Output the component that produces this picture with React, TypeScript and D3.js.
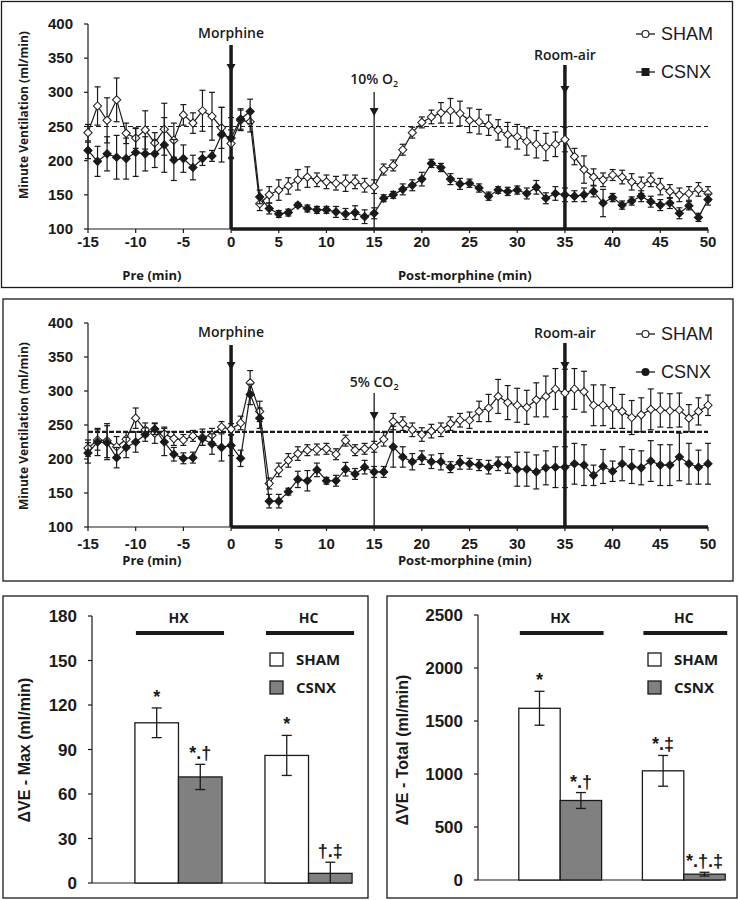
import React from "react";
import * as d3 from "d3";

// ---------- DATA ----------
const minutes = d3.range(-15, 51);

// Panel A (hypoxia, 10% O2)
const hxSham = [241, 280, 259, 289, 240, 233, 245, 226, 246, 230, 267, 255, 273, 265, 248,
  225, 259, 257, 137, 150, 157, 163, 172,
  176, 172, 169, 167, 167, 169, 164, 162,
  187, 193, 216, 241, 256,
  264, 270, 273, 269, 259, 257, 252, 245, 238,
  235, 228, 224, 220, 224, 231,
  206, 187, 176, 172, 179, 176, 169,
  164, 172, 162, 155, 150, 152, 158, 152];
const hxShamErr = [12, 28, 33, 32, 15, 15, 28, 15, 38, 25, 15, 15, 30, 35, 30,
  20, 15, 15, 10, 12, 15, 12, 15,
  15, 10, 10, 10, 12, 10, 10, 10,
  8, 8, 8, 8, 8,
  10, 15, 18, 18, 18, 18, 15, 15, 18,
  18, 20, 20, 20, 18, 18,
  12, 20, 12, 10, 8, 10, 12,
  12, 10, 12, 10, 10, 10, 10, 10];
const hxCsnx = [215, 199, 210, 205, 203, 212, 210, 210, 223, 201, 203, 190, 203, 207, 238,
  233, 261, 272, 147, 130, 122, 124, 135,
  130, 128, 128, 125, 122, 124, 118, 123,
  145, 150, 158, 164, 173,
  196, 190, 173, 166, 167, 160, 148, 157, 155,
  157, 152, 161, 145, 152, 150,
  148, 150, 155, 138, 146, 135, 141,
  148, 140, 135, 138, 123, 134, 117, 143];
const hxCsnxErr = [12, 22, 25, 32, 30, 35, 25, 20, 40, 30, 20, 18, 10, 8, 40,
  30, 15, 18, 10, 8, 5, 5, 3,
  5, 5, 5, 8, 8, 10, 10, 8,
  5, 5, 8, 8, 10,
  6, 6, 8, 8, 6, 6, 6, 5, 6,
  6, 8, 10, 8, 10, 10,
  8, 10, 8, 20, 6, 6, 6,
  8, 8, 8, 8, 8, 6, 6, 8];

// Panel B (hypercapnia, 5% CO2)
const hcSham = [216, 228, 227, 218, 229, 260, 243, 238, 237, 230, 228, 234, 232, 235, 247,
  244, 253, 312, 270, 164, 184, 198, 208,
  213, 214, 215, 207, 227, 213, 215, 218,
  229, 255, 252, 243, 236,
  241, 243, 252, 257, 257, 270, 275, 292, 283,
  279, 276, 287, 292, 303, 297,
  303, 299, 279, 279, 275, 270, 261,
  265, 273, 272, 271, 272, 260, 270, 279];
const hcShamErr = [12, 15, 25, 15, 10, 15, 10, 15, 10, 10, 8, 8, 12, 10, 8,
  8, 10, 18, 15, 8, 10, 10, 10,
  8, 8, 8, 8, 8, 8, 8, 8,
  10, 12, 10, 10, 10,
  10, 10, 10, 10, 12, 15, 20, 25, 25,
  25, 25, 25, 30, 30, 35,
  30, 30, 30, 30, 30, 25, 25,
  25, 30, 25, 25, 25, 20, 20, 15];
const hcCsnx = [209, 225, 224, 202, 217, 225, 236, 244, 225, 207, 201, 202, 230, 222, 217,
  220, 201, 295, 260, 138, 138, 152, 170,
  168, 184, 168, 168, 185, 178, 188, 181,
  181, 218, 203, 196, 202,
  196, 196, 188, 195, 193, 191, 188, 193, 191,
  185, 185, 181, 187, 188, 188,
  193, 191, 176, 189, 182, 193, 189,
  187, 197, 191, 191, 203, 193, 188, 193];
const hcCsnxErr = [15, 20, 25, 15, 15, 15, 10, 8, 20, 10, 8, 8, 10, 15, 20,
  15, 12, 15, 15, 10, 10, 5, 12,
  15, 10, 5, 8, 10, 8, 10, 8,
  8, 30, 15, 12, 10,
  10, 12, 8, 10, 8, 8, 10, 10, 12,
  25, 25, 25, 25, 30, 30,
  30, 30, 15, 25, 15, 25, 25,
  25, 30, 30, 30, 35, 30, 25, 30];

const yTicksLine = [100, 150, 200, 250, 300, 350, 400];
const xTicksLine = [-15, -10, -5, 0, 5, 10, 15, 20, 25, 30, 35, 40, 45, 50];

// Bar panels
const groups = ["HX", "HC"];
const seriesNames = ["SHAM", "CSNX"];
const maxSham = [108, 86];
const maxShamErr = [10, 13.5];
const maxCsnx = [71.5, 6.5];
const maxCsnxErr = [8.5, 7.5];
const maxShamMarks = ["*", "*"];
const maxCsnxMarks = ["*.†", "†.‡"];
const maxTicks = [0, 30, 60, 90, 120, 150, 180];

const totSham = [1620, 1030];
const totShamErr = [160, 145];
const totCsnx = [750, 55];
const totCsnxErr = [75, 18];
const totShamMarks = ["*", "*.‡"];
const totCsnxMarks = ["*.†", "*.†.‡"];
const totTicks = [0, 500, 1000, 1500, 2000, 2500];

// ---------- STYLE ----------
const SANS = "'Liberation Sans', Arial, sans-serif";
const LABEL = "'Open Sans', 'Noto Sans', sans-serif";
const INK = "#1a1a1a";

type Ev = { t: number; label: string; sub?: string; yTop: number; yArrow: number; yLabel: number; thick: boolean };

function TimePanel(props: {
  box: [number, number, number, number];
  yBottom: number; yTop: number;
  sham: number[]; shamErr: number[]; csnx: number[]; csnxErr: number[];
  ref0: number; refWidth: number; refDash: string;
  events: Ev[];
  legendY: [number, number];
  csnxLegendSquare: boolean;
  tickBase: number; titleBase: number; yTitleCenter: number;
}) {
  const p = props;
  const x = d3.scaleLinear().domain([-15, 50]).range([88, 708]);
  const y = d3.scaleLinear().domain([100, 400]).range([p.yBottom, p.yTop]);
  const line = d3.line<number>().x((_, i) => x(minutes[i])).y((d) => y(d));
  const diamond = d3.symbol().type(d3.symbolSquare).size(34)()!;
  const renderSeries = (vals: number[], errs: number[], filled: boolean) => (
    <g>
      <path d={line(vals)!} fill="none" stroke={INK} strokeWidth={1.2} />
      {vals.map((v, i) => {
        const cx = x(minutes[i]);
        const t = y(v + errs[i]);
        const b = y(v - errs[i]);
        return (
          <g key={i}>
            <line x1={cx} x2={cx} y1={t} y2={b} stroke={INK} strokeWidth={1.2} />
            <line x1={cx - 3} x2={cx + 3} y1={t} y2={t} stroke={INK} strokeWidth={1.2} />
            <line x1={cx - 3} x2={cx + 3} y1={b} y2={b} stroke={INK} strokeWidth={1.2} />
          </g>
        );
      })}
      {vals.map((v, i) => (
        <path key={"m" + i} d={diamond} transform={`translate(${x(minutes[i])},${y(v)}) rotate(45)`}
          fill={filled ? INK : "white"} stroke={INK} strokeWidth={1} />
      ))}
    </g>
  );
  const [bx, by, bw, bh] = p.box;
  return (
    <g>
      <rect x={bx} y={by} width={bw} height={bh} fill="white" stroke={INK} strokeWidth={1.3} />
      <line x1={x(-15)} x2={x(50)} y1={y(p.ref0)} y2={y(p.ref0)} stroke={INK} strokeWidth={p.refWidth} strokeDasharray={p.refDash} />
      <line x1={x(-15)} x2={x(-15)} y1={y(400)} y2={y(100)} stroke={INK} strokeWidth={1.2} />
      {yTicksLine.map((t) => (
        <g key={t}>
          <line x1={x(-15) - 4} x2={x(-15)} y1={y(t)} y2={y(t)} stroke={INK} strokeWidth={1.2} />
          <text x={x(-15) - 15} y={y(t) + 5} textAnchor="end" fontFamily={SANS} fontSize={15} fontWeight="bold" fill={INK}>{t}</text>
        </g>
      ))}
      <line x1={x(-15)} x2={x(0)} y1={y(100)} y2={y(100)} stroke={INK} strokeWidth={1.2} />
      <line x1={x(0)} x2={x(50)} y1={y(100)} y2={y(100)} stroke={INK} strokeWidth={3.5} />
      {xTicksLine.map((t) => (
        <g key={t}>
          <line x1={x(t)} x2={x(t)} y1={y(100)} y2={y(100) + 4} stroke={INK} strokeWidth={1.2} />
          <text x={x(t)} y={p.tickBase} textAnchor="middle" fontFamily={SANS} fontSize={15} fontWeight="bold" fill={INK}>{t}</text>
        </g>
      ))}
      <text x={x(-8.3)} y={p.titleBase} textAnchor="middle" fontFamily={LABEL} fontSize={13} fontWeight="bold" fill={INK}>Pre (min)</text>
      <text x={x(24.5)} y={p.titleBase} textAnchor="middle" fontFamily={LABEL} fontSize={13} fontWeight="bold" fill={INK}>Post-morphine (min)</text>
      <text transform={`translate(28,${p.yTitleCenter}) rotate(-90)`} textAnchor="middle" fontFamily={LABEL} fontSize={12} fontWeight="bold" fill={INK}>Minute Ventilation (ml/min)</text>
      {p.events.map((e) => (
        <g key={e.label}>
          <line x1={x(e.t)} x2={x(e.t)} y1={e.yTop} y2={y(100)} stroke={INK} strokeWidth={e.thick ? 3.5 : 1.3} />
          <path d={`M${x(e.t) - 4.5},${e.yArrow} L${x(e.t) + 4.5},${e.yArrow} L${x(e.t)},${e.yArrow + 8} Z`} fill={INK} />
          <text x={x(e.t)} y={e.yLabel} textAnchor="middle" fontFamily={LABEL} fontSize={14} fontWeight="600" fill={INK}>
            {e.label}
            {e.sub ? <tspan fontSize={9} dy={3}>{e.sub}</tspan> : null}
          </text>
        </g>
      ))}
      {renderSeries(p.sham, p.shamErr, false)}
      {renderSeries(p.csnx, p.csnxErr, true)}
      <g>
        <line x1={636} x2={655} y1={p.legendY[0] - 6} y2={p.legendY[0] - 6} stroke={INK} strokeWidth={1.3} />
        <circle cx={645.5} cy={p.legendY[0] - 6} r={3.5} fill="white" stroke={INK} strokeWidth={1.1} />
        <text x={661} y={p.legendY[0]} fontFamily={SANS} fontSize={18} fill={INK}>SHAM</text>
        <line x1={636} x2={655} y1={p.legendY[1] - 6} y2={p.legendY[1] - 6} stroke={INK} strokeWidth={1.3} />
        {p.csnxLegendSquare
          ? <rect x={641.5} y={p.legendY[1] - 10} width={8} height={8} fill={INK} />
          : <circle cx={645.5} cy={p.legendY[1] - 6} r={4} fill={INK} />}
        <text x={661} y={p.legendY[1]} fontFamily={SANS} fontSize={18} fill={INK}>CSNX</text>
      </g>
    </g>
  );
}

function BarPanel(props: {
  box: [number, number, number, number];
  axisX: number; axisEnd: number; bandEnd: number; y0: number; yTopPx: number; maxV: number;
  ticks: number[]; sham: number[]; shamErr: number[]; csnx: number[]; csnxErr: number[];
  shamMarks: string[]; csnxMarks: string[]; title: string; titleX: number;
  legendX: number;
}) {
  const p = props;
  const y = d3.scaleLinear().domain([0, p.maxV]).range([p.y0, p.yTopPx]);
  const xg = d3.scaleBand<string>().domain(groups).range([p.axisX, p.bandEnd]).paddingInner(0.33).paddingOuter(0.33);
  const xs = d3.scaleBand<string>().domain(seriesNames).range([0, xg.bandwidth()]);
  const [bx, by, bw, bh] = p.box;
  const vals = [p.sham, p.csnx];
  const errs = [p.shamErr, p.csnxErr];
  const marks = [p.shamMarks, p.csnxMarks];
  const fills = ["white", "#808080"];
  const groupLineY = 633;
  return (
    <g>
      <rect x={bx} y={by} width={bw} height={bh} fill="white" stroke={INK} strokeWidth={1.3} />
      <line x1={p.axisX} x2={p.axisX} y1={y(p.maxV)} y2={y(0)} stroke={INK} strokeWidth={1.2} />
      <line x1={p.axisX} x2={p.axisEnd} y1={y(0)} y2={y(0)} stroke={INK} strokeWidth={1.2} />
      {p.ticks.map((t) => (
        <g key={t}>
          <line x1={p.axisX - 4} x2={p.axisX} y1={y(t)} y2={y(t)} stroke={INK} strokeWidth={1.2} />
          <text x={p.axisX - 15} y={y(t) + 6} textAnchor="end" fontFamily={SANS} fontSize={17} fontWeight="bold" fill={INK}>{t}</text>
        </g>
      ))}
      <text transform={`translate(${p.titleX},${750}) rotate(-90)`} textAnchor="middle" fontFamily={SANS} fontSize={16} fontWeight="bold" fill={INK}>{p.title}</text>
      {groups.map((g, gi) => (
        <g key={g}>
          <line x1={xg(g)! + 1} x2={xg(g)! + xg.bandwidth() + 2} y1={groupLineY} y2={groupLineY} stroke={INK} strokeWidth={4} />
          <text x={xg(g)! + xg.bandwidth() / 2} y={623} textAnchor="middle" fontFamily={LABEL} fontSize={14} fontWeight="bold" fill={INK}>{g}</text>
          {seriesNames.map((s, si) => {
            const v = vals[si][gi];
            const e = errs[si][gi];
            const x0 = xg(g)! + xs(s)!;
            const cx = x0 + xs.bandwidth() / 2;
            return (
              <g key={s}>
                <rect x={x0} y={y(v)} width={xs.bandwidth()} height={y(0) - y(v)} fill={fills[si]} stroke={INK} strokeWidth={1.3} />
                <line x1={cx} x2={cx} y1={y(v + e)} y2={Math.min(y(v - e), y(0))} stroke={INK} strokeWidth={1.3} />
                <line x1={cx - 5} x2={cx + 5} y1={y(v + e)} y2={y(v + e)} stroke={INK} strokeWidth={1.3} />
                {v - e > 0 ? <line x1={cx - 5} x2={cx + 5} y1={y(v - e)} y2={y(v - e)} stroke={INK} strokeWidth={1.3} /> : null}
                <text x={cx} y={y(v + e) - 5} textAnchor="middle" fontFamily={SANS} fontSize={18} fontWeight="bold" fill={INK}>{marks[si][gi]}</text>
              </g>
            );
          })}
        </g>
      ))}
      {seriesNames.map((s, si) => (
        <g key={s}>
          <rect x={p.legendX} y={653 + si * 28} width={13} height={13} fill={fills[si]} stroke={INK} strokeWidth={1.3} />
          <text x={p.legendX + 26} y={665 + si * 28} fontFamily={LABEL} fontSize={15} fontWeight="bold" fill={INK}>{s}</text>
        </g>
      ))}
    </g>
  );
}

export default function App() {
  const evA: Ev[] = [
    { t: 0, label: "Morphine", yTop: 45, yArrow: 64, yLabel: 38, thick: true },
    { t: 15, label: "10% O", sub: "2", yTop: 92, yArrow: 108, yLabel: 84, thick: false },
    { t: 35, label: "Room-air", yTop: 65, yArrow: 86, yLabel: 60, thick: true },
  ];
  const evB: Ev[] = [
    { t: 0, label: "Morphine", yTop: 345, yArrow: 362, yLabel: 337, thick: true },
    { t: 15, label: "5% CO", sub: "2", yTop: 393, yArrow: 412, yLabel: 387, thick: false },
    { t: 35, label: "Room-air", yTop: 343, yArrow: 362, yLabel: 338, thick: true },
  ];
  return (
    <svg width={739} height={900} style={{ position: "absolute", left: 0, top: 0, background: "white" }}>
      <rect width={739} height={900} fill="white" />
      <TimePanel box={[1.5, 1.5, 731, 286]} yBottom={229} yTop={24}
        sham={hxSham} shamErr={hxShamErr} csnx={hxCsnx} csnxErr={hxCsnxErr}
        ref0={250} refWidth={1.2} refDash="5,3" events={evA} legendY={[40, 78]} csnxLegendSquare={true}
        tickBase={247} titleBase={280} yTitleCenter={115} />
      <TimePanel box={[3, 299, 730, 282]} yBottom={527} yTop={323}
        sham={hcSham} shamErr={hcShamErr} csnx={hcCsnx} csnxErr={hcCsnxErr}
        ref0={240} refWidth={2.2} refDash="5,2" events={evB} legendY={[340, 378]} csnxLegendSquare={false}
        tickBase={549} titleBase={565} yTitleCenter={426} />
      <BarPanel box={[3, 596, 365, 302]} axisX={92} axisEnd={352} bandEnd={395} y0={883} yTopPx={616} maxV={180}
        ticks={maxTicks} sham={maxSham} shamErr={maxShamErr} csnx={maxCsnx} csnxErr={maxCsnxErr}
        shamMarks={maxShamMarks} csnxMarks={maxCsnxMarks} title="ΔVE - Max (ml/min)" titleX={30} legendX={270} />
      <BarPanel box={[387, 596, 350, 302]} axisX={478} axisEnd={721} bandEnd={766} y0={880} yTopPx={615} maxV={2500}
        ticks={totTicks} sham={totSham} shamErr={totShamErr} csnx={totCsnx} csnxErr={totCsnxErr}
        shamMarks={totShamMarks} csnxMarks={totCsnxMarks} title="ΔVE - Total (ml/min)" titleX={408} legendX={648} />
    </svg>
  );
}
